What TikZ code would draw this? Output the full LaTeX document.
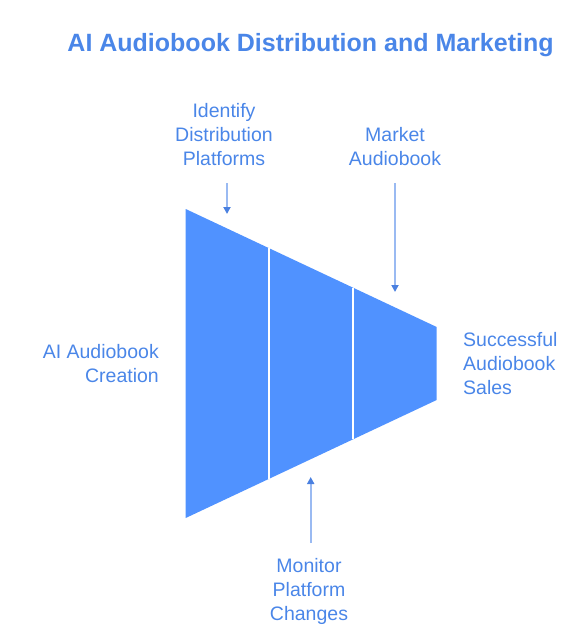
\documentclass[tikz,border=0pt]{standalone}
\usepackage{fontspec}
\setmainfont{Liberation Sans}
\usetikzlibrary{arrows.meta}
\definecolor{funnelblue}{RGB}{80,146,255}
\definecolor{textblue}{RGB}{74,134,232}
\definecolor{arrowline}{RGB}{154,186,242}
\definecolor{arrowhead}{RGB}{74,128,224}
\tikzset{
  lbl/.style={text=textblue, inner sep=0pt, font=\fontsize{19.5}{24}\selectfont},
  flow/.style={draw=arrowline, line width=1.8pt, -{Triangle[width=7pt,length=7pt,color=arrowhead]}}
}

\begin{document}
\begin{tikzpicture}[x=1pt,y=-1pt]
  \useasboundingbox (0,0) rectangle (581,640);
  % title
  \node[text=textblue, inner sep=0pt, font=\bfseries\fontsize{25}{30}\selectfont] (title) at (310.5,45) {AI Audiobook Distribution and Marketing};
  % funnel
  \fill[funnelblue] (185.7,209) coordinate (tl) -- (436.7,327) coordinate (tr) -- (436.7,400) coordinate (br) -- (185.7,518) coordinate (bl) -- cycle;
  \draw[white, line width=2pt] (269,248.2) coordinate (s1t) -- (269,478.8) coordinate (s1b);
  \draw[white, line width=2pt] (353,287.6) coordinate (s2t) -- (353,439.4) coordinate (s2b);
  % labels
  \node[lbl, align=center] (plat) at (224,135) {Identify\\Distribution\\Platforms};
  \node[lbl, align=center] (market) at (395,147) {Market\\Audiobook};
  \node[lbl, align=center] (monitor) at (309,591) {Monitor\\Platform\\Changes};
  \node[lbl, align=right, anchor=east] (create) at (159,364) {AI Audiobook\\Creation};
  \node[lbl, align=left, anchor=west] (sales) at (463,364) {Successful\\Audiobook\\Sales};
  % arrows
  \coordinate (a1) at (227,183);
  \coordinate (t1) at (227,214);
  \coordinate (a2) at (395,183);
  \coordinate (t2) at (395,292);
  \coordinate (a3) at (310.7,543);
  \coordinate (t3) at (310.7,477);
  \draw[flow] (a1) -- (t1);
  \draw[flow] (a2) -- (t2);
  \draw[flow] (a3) -- (t3);
\end{tikzpicture}
\end{document}
